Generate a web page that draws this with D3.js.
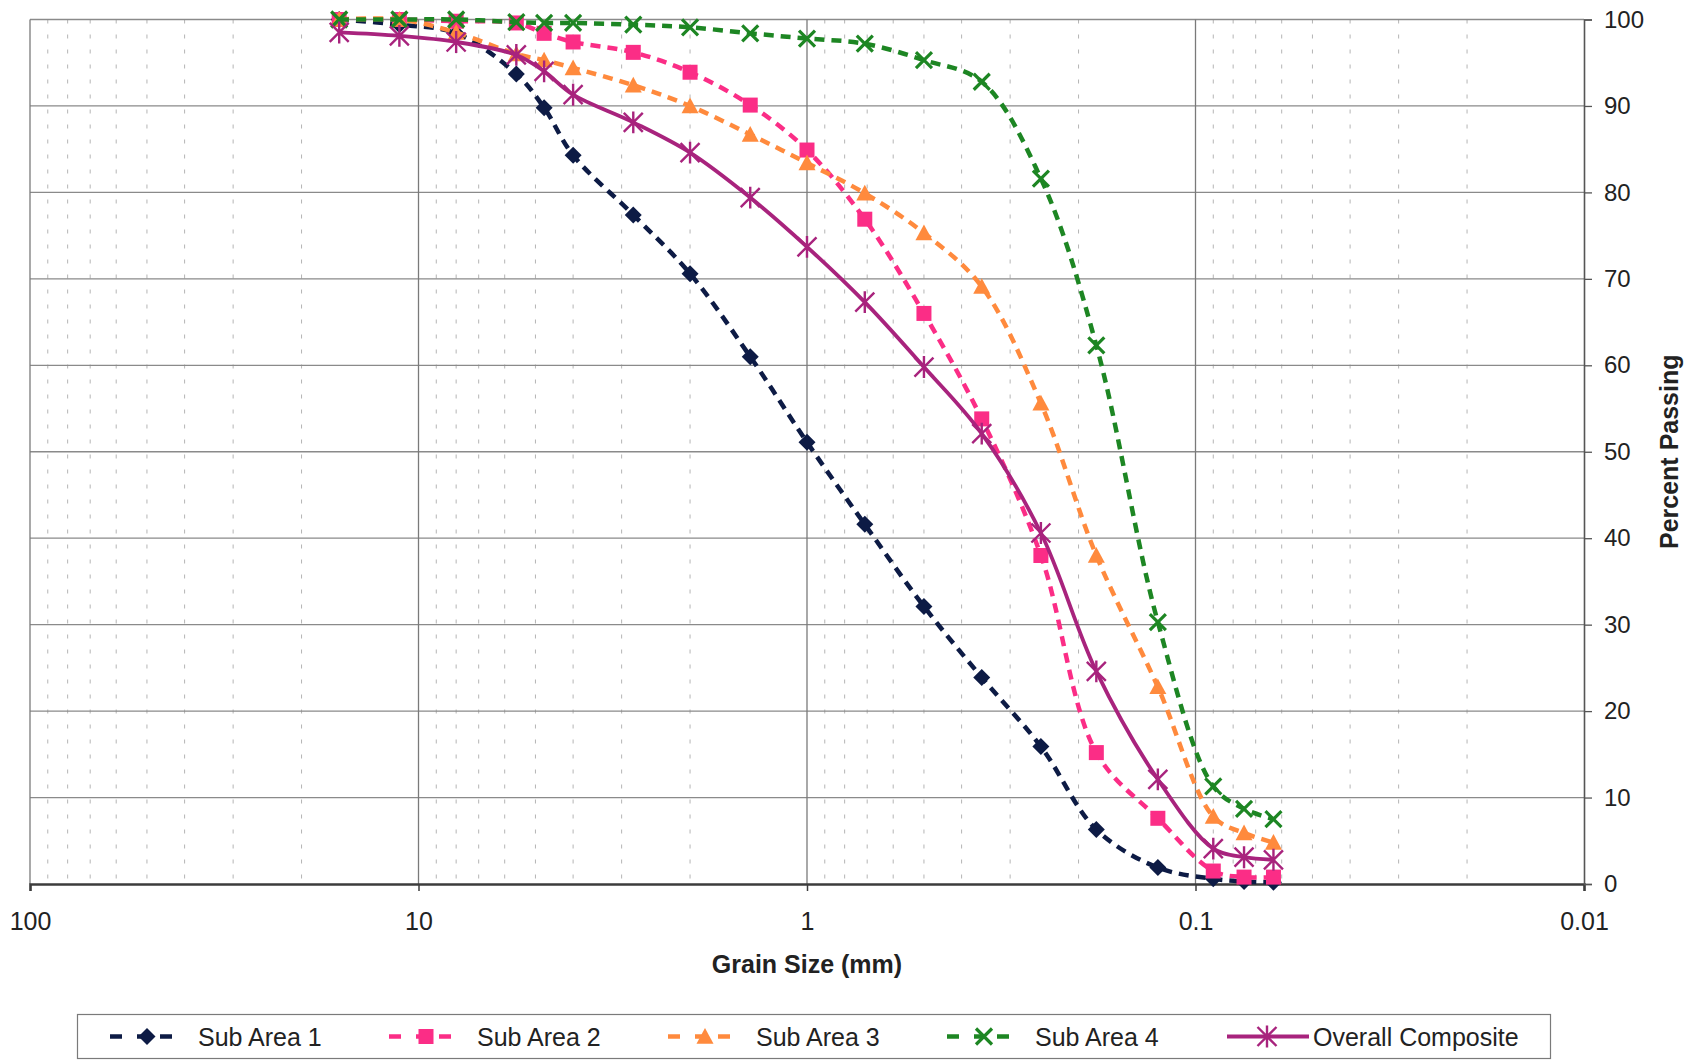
<!DOCTYPE html>
<html>
<head>
<meta charset="utf-8">
<script src="https://cdn.jsdelivr.net/npm/d3@7"></script>
<style>
  html, body { margin: 0; padding: 0; background: #fff; }
  svg { display: block; font-family: "Liberation Sans", Arial, sans-serif; }
</style>
</head>
<body>
<svg id="chart" width="1695" height="1062"></svg>
<script>
// ---------------- data ----------------
const sizes = [16, 11.2, 8, 5.6, 4.75, 4, 2.8, 2, 1.4, 1, 0.71, 0.5, 0.355, 0.25, 0.18, 0.125, 0.09, 0.075, 0.063];
const subArea1 = [100, 99.4, 98.4, 93.7, 89.8, 84.3, 77.4, 70.6, 61.0, 51.1, 41.6, 32.1, 23.9, 15.9, 6.3, 1.9, 0.6, 0.3, 0.2];
const subArea2 = [100, 100, 99.8, 99.6, 98.4, 97.4, 96.2, 93.9, 90.1, 84.9, 76.9, 66.0, 53.8, 38.0, 15.2, 7.6, 1.5, 0.8, 0.8];
const subArea3 = [100, 100, 98.5, 96.0, 95.3, 94.4, 92.4, 90.0, 86.7, 83.4, 79.9, 75.3, 69.1, 55.6, 38.0, 22.8, 7.8, 5.9, 4.8];
const subArea4 = [100, 100, 100, 99.7, 99.6, 99.6, 99.4, 99.1, 98.4, 97.8, 97.2, 95.3, 92.8, 81.6, 62.3, 30.3, 11.3, 8.7, 7.5];
const composite = [98.5, 98.1, 97.4, 95.9, 94.0, 91.3, 88.1, 84.6, 79.4, 73.7, 67.3, 59.8, 52.1, 40.6, 24.6, 12.1, 4.1, 3.1, 2.8];
const seriesNames = ["Sub Area 1", "Sub Area 2", "Sub Area 3", "Sub Area 4", "Overall Composite"];
const xTickValues = [100, 10, 1, 0.1, 0.01];
const xTickLabels = ["100", "10", "1", "0.1", "0.01"];
const yTickValues = [0, 10, 20, 30, 40, 50, 60, 70, 80, 90, 100];
const xTitle = "Grain Size (mm)";
const yTitle = "Percent Passing";

// ---------------- styles ----------------
const styles = [
  { color: "#0d1b45", marker: "diamond", dash: "10,7", width: 4.5 },
  { color: "#fb2d86", marker: "square", dash: "10,7", width: 4.5 },
  { color: "#ff8a3d", marker: "triangle", dash: "10,7", width: 4.5 },
  { color: "#1d8623", marker: "x", dash: "10,7", width: 4.5 },
  { color: "#a8237d", marker: "asterisk", dash: null, width: 3.8 }
];
const allValues = [subArea1, subArea2, subArea3, subArea4, composite];

const svg = d3.select("#chart");
const L = 30, R = 1584, T = 19.5, B = 884;

const x = d3.scaleLog().domain([100, 0.01]).range([L, R]);
const y = d3.scaleLinear().domain([0, 100]).range([B, T]);

// ---------------- grid ----------------
const grid = svg.append("g");
const minor = [];
[0.01, 0.1, 1, 10].forEach(d => { for (let k = 2; k <= 9; k++) minor.push(k * d); });
grid.selectAll("line.minor").data(minor).enter().append("line")
  .attr("x1", d => x(d)).attr("x2", d => x(d)).attr("y1", T).attr("y2", B)
  .attr("stroke", "#b4b4b4").attr("stroke-width", 1).attr("stroke-dasharray", "4,11");
grid.selectAll("line.h").data(yTickValues.filter(v => v > 0)).enter().append("line")
  .attr("x1", L).attr("x2", R).attr("y1", d => y(d)).attr("y2", d => y(d))
  .attr("stroke", "#8a8a8a").attr("stroke-width", 1.3);
grid.selectAll("line.v").data([100, 10, 1, 0.1]).enter().append("line")
  .attr("x1", d => x(d)).attr("x2", d => x(d)).attr("y1", T).attr("y2", B)
  .attr("stroke", "#7a7a7a").attr("stroke-width", 1.3);

// ---------------- axes ----------------
const xAxis = d3.axisBottom(x).tickValues(xTickValues)
  .tickFormat((d, i) => xTickLabels[i]).tickSize(7).tickPadding(21);
const gx = svg.append("g").attr("transform", `translate(0,${B})`).call(xAxis);
gx.select(".domain").attr("stroke", "#3c3c3c").attr("stroke-width", 2.5);
gx.selectAll(".tick line").attr("stroke", "#3c3c3c").attr("stroke-width", 1.5);
gx.selectAll("text").attr("font-size", 25).attr("fill", "#222")
  .attr("font-family", "Liberation Sans, Arial, sans-serif");

const yAxis = d3.axisRight(y).tickValues(yTickValues).tickSize(8).tickPadding(12).tickFormat(d3.format("d"));
const gy = svg.append("g").attr("transform", `translate(${R},0)`).call(yAxis);
gy.select(".domain").attr("stroke", "#555").attr("stroke-width", 1.6);
gy.selectAll(".tick line").attr("stroke", "#555").attr("stroke-width", 1.3);
gy.selectAll("text").attr("font-size", 24).attr("fill", "#222")
  .attr("font-family", "Liberation Sans, Arial, sans-serif");

// titles
svg.append("text").attr("x", x(1)).attr("y", 973).attr("text-anchor", "middle")
  .attr("font-size", 25).attr("font-weight", "bold").attr("fill", "#222").text(xTitle);
svg.append("text").attr("transform", `translate(1678,${(y(50))}) rotate(-90)`).attr("text-anchor", "middle")
  .attr("font-size", 25).attr("font-weight", "bold").attr("fill", "#222").text(yTitle);

// ---------------- markers ----------------
function drawMarker(g, type, color, cx, cy) {
  if (type === "diamond") {
    const r = 8.5;
    g.append("path").attr("d", `M${cx},${cy - r}L${cx + r},${cy}L${cx},${cy + r}L${cx - r},${cy}Z`).attr("fill", color);
  } else if (type === "square") {
    const r = 7.5;
    g.append("rect").attr("x", cx - r).attr("y", cy - r).attr("width", 2 * r).attr("height", 2 * r).attr("fill", color);
  } else if (type === "triangle") {
    const r = 8.5;
    g.append("path").attr("d", `M${cx},${cy - r}L${cx + r},${cy + r * 0.85}L${cx - r},${cy + r * 0.85}Z`).attr("fill", color);
  } else if (type === "x") {
    const r = 8;
    g.append("path").attr("d", `M${cx - r},${cy - r}L${cx + r},${cy + r}M${cx + r},${cy - r}L${cx - r},${cy + r}`)
      .attr("stroke", color).attr("stroke-width", 3.2).attr("fill", "none");
  } else if (type === "asterisk") {
    const r = 9.5;
    g.append("path").attr("d", `M${cx - r},${cy - r}L${cx + r},${cy + r}M${cx + r},${cy - r}L${cx - r},${cy + r}M${cx},${cy - r * 1.15}L${cx},${cy + r * 1.15}`)
      .attr("stroke", color).attr("stroke-width", 2.4).attr("fill", "none");
  }
}

// ---------------- series ----------------
const line = d3.line().x(d => x(d[0])).y(d => y(d[1])).curve(d3.curveCatmullRom.alpha(0.5));
allValues.forEach((vals, i) => {
  const st = styles[i];
  const pts = sizes.map((s, j) => [s, vals[j]]);
  const g = svg.append("g");
  g.append("path").datum(pts).attr("d", line).attr("fill", "none")
    .attr("stroke", st.color).attr("stroke-width", st.width)
    .attr("stroke-dasharray", st.dash);
  pts.forEach(p => drawMarker(g, st.marker, st.color, x(p[0]), y(p[1])));
});

// ---------------- legend ----------------
const lg = svg.append("g");
lg.append("rect").attr("x", 77.5).attr("y", 1014.5).attr("width", 1473).attr("height", 44)
  .attr("fill", "#fff").attr("stroke", "#7a7a7a").attr("stroke-width", 1.2);
const legendX = [110, 389, 668, 947, 1227];
const ly = 1036.5;
seriesNames.forEach((name, i) => {
  const st = styles[i];
  const x0 = legendX[i];
  if (st.dash) {
    lg.append("line").attr("x1", x0).attr("x2", x0 + 12).attr("y1", ly).attr("y2", ly)
      .attr("stroke", st.color).attr("stroke-width", 4.5);
    lg.append("line").attr("x1", x0 + 27).attr("x2", x0 + 37).attr("y1", ly).attr("y2", ly)
      .attr("stroke", st.color).attr("stroke-width", 4.5);
    lg.append("line").attr("x1", x0 + 50).attr("x2", x0 + 62).attr("y1", ly).attr("y2", ly)
      .attr("stroke", st.color).attr("stroke-width", 4.5);
    drawMarker(lg, st.marker, st.color, x0 + 37, ly);
    lg.append("text").attr("x", x0 + 88).attr("y", ly + 9).attr("font-size", 25).attr("fill", "#222").text(name);
  } else {
    lg.append("line").attr("x1", x0).attr("x2", x0 + 82).attr("y1", ly).attr("y2", ly)
      .attr("stroke", st.color).attr("stroke-width", 3.8);
    drawMarker(lg, st.marker, st.color, x0 + 40, ly);
    lg.append("text").attr("x", x0 + 86).attr("y", ly + 9).attr("font-size", 25).attr("fill", "#222").text(name);
  }
});
</script>
</body>
</html>
